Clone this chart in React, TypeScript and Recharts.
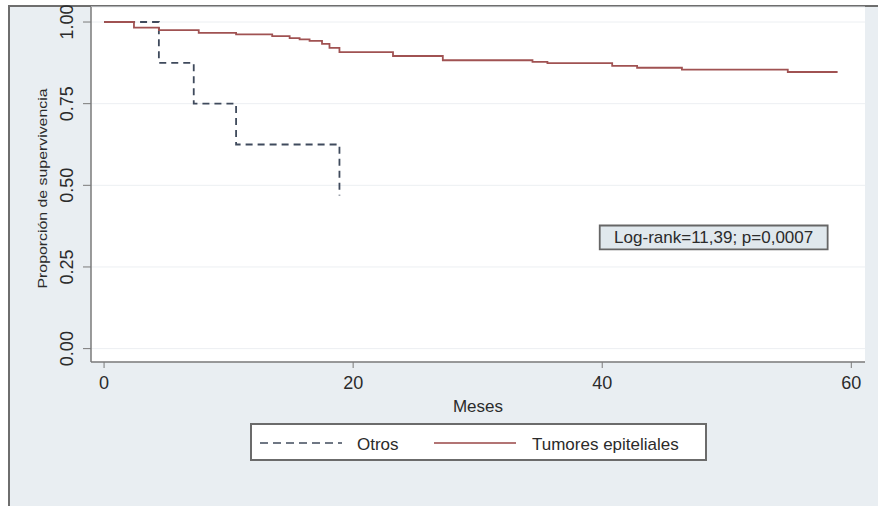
import React from 'react';
import { LineChart, Line, XAxis, YAxis, CartesianGrid, ReferenceArea, Legend, Label } from 'recharts';

const FONT = '"Liberation Sans", Arial, Helvetica, sans-serif';
const TXT = '#2b2b2b';
const OTROS_COLOR = '#3f4a5c';
const TUM_COLOR = '#a05252';

// Otros (Kaplan-Meier step points)
const otrosMonths = [0, 4.4, 7.2, 10.6, 18.9];
const otrosSurv = [1, 0.875, 0.75, 0.625, 0.469];

// Tumores epiteliales
const tumMonths = [0, 2.4, 4.4, 7.6, 10.6, 13.5, 14.9, 15.7, 16.5, 17.5, 18.1, 18.9, 23.2, 27.2, 34.4, 35.6, 40.8, 42.8, 46.4, 54.9, 58.9];
const tumSurv = [1, 0.983, 0.975, 0.967, 0.962, 0.957, 0.951, 0.947, 0.942, 0.933, 0.921, 0.908, 0.896, 0.883, 0.878, 0.874, 0.866, 0.86, 0.854, 0.847, 0.847];

const xTicks = [0, 20, 40, 60];
const yTicks = [0, 0.25, 0.5, 0.75, 1];
const seriesNames = ['Otros', 'Tumores epiteliales'];
const annotationText = 'Log-rank=11,39; p=0,0007';
const xTitle = 'Meses';
const yTitle = 'Proporción de supervivencia';

const otrosData = otrosMonths.map((x, i) => ({ x, s: otrosSurv[i] }));
const tumData = tumMonths.map((x, i) => ({ x, s: tumSurv[i] }));

const YTick = (props: any) => {
  const { x, y, payload } = props;
  const tx = x - 8;
  return (
    <text x={tx} y={y} transform={`rotate(-90, ${tx}, ${y})`} textAnchor="middle" fontFamily={FONT} fontSize={18} fill={TXT}>
      {Number(payload.value).toFixed(2)}
    </text>
  );
};

const LegendBox = () => (
  <svg width={457} height={38} style={{ display: 'block' }}>
    <rect x={1} y={1} width={455} height={36} fill="#ffffff" stroke="#6b6b6b" strokeWidth={2} />
    <line x1={10} x2={92} y1={20} y2={20} stroke={OTROS_COLOR} strokeWidth={2} strokeDasharray="8 5" opacity={0.75} />
    <text x={107} y={27} fontFamily={FONT} fontSize={17} fill={TXT}>{seriesNames[0]}</text>
    <line x1={184} x2={266} y1={20} y2={20} stroke={TUM_COLOR} strokeWidth={2} opacity={0.8} />
    <text x={282} y={27} fontFamily={FONT} fontSize={17} fill={TXT}>{seriesNames[1]}</text>
  </svg>
);

const AnnotLabel = (props: any) => {
  const vb = props.viewBox;
  return (
    <text x={vb.x + vb.width / 2} y={vb.y + vb.height / 2 + 6} textAnchor="middle" fontFamily={FONT} fontSize={17} fill={TXT}>
      {annotationText}
    </text>
  );
};

export default function App() {
  return (
    <div style={{ position: 'absolute', left: 0, top: 0, width: 878, height: 506, background: '#ffffff', overflow: 'hidden' }}>
      <div style={{ position: 'absolute', left: 8, top: 5, right: 0, bottom: 0, background: '#e9eef2', borderLeft: '2px solid #6e6e6e', borderTop: '2px solid #6e6e6e' }} />
      <div style={{ position: 'absolute', left: 0, top: 0 }}>
        <LineChart width={878} height={506} margin={{ top: 7, right: 13, left: 7, bottom: 94 }}>
          <CartesianGrid horizontal vertical={false} stroke="#eceff2" fill="#ffffff" fillOpacity={1} />
          <XAxis
            type="number"
            dataKey="x"
            domain={[-1.05, 61.1]}
            ticks={xTicks}
            allowDataOverflow
            tickSize={6}
            tickMargin={8}
            height={50}
            axisLine={{ stroke: '#7a7a7a', strokeWidth: 1.5 }}
            tickLine={{ stroke: '#7a7a7a' }}
            tick={{ fontFamily: FONT, fontSize: 18, fill: TXT }}
          >
            <Label
              content={(p: any) => (
                <text x={p.viewBox.x + p.viewBox.width / 2} y={p.viewBox.y + 50} textAnchor="middle" fontFamily={FONT} fontSize={17} fill={TXT}>
                  {xTitle}
                </text>
              )}
            />
          </XAxis>
          <YAxis
            type="number"
            domain={[-0.041, 1.046]}
            ticks={yTicks}
            allowDataOverflow
            width={84}
            tickSize={8}
            tickMargin={2}
            axisLine={{ stroke: '#7a7a7a', strokeWidth: 1.5 }}
            tickLine={{ stroke: '#7a7a7a' }}
            tick={<YTick />}
          >
            <Label
              content={(p: any) => {
                const cy = p.viewBox.y + p.viewBox.height / 2 + 4;
                return (
                  <text x={47} y={cy} transform={`rotate(-90, 47, ${cy})`} textAnchor="middle" fontFamily={FONT} fontSize={12.5} fill={TXT} textLength={200} lengthAdjust="spacingAndGlyphs">
                    {yTitle}
                  </text>
                );
              }}
            />
          </YAxis>
          <ReferenceArea x1={39.8} x2={58.1} y1={0.304} y2={0.377} fill="#e0e8ed" fillOpacity={1} stroke="#666666" strokeWidth={1.8} label={<AnnotLabel />} />
          <Line data={otrosData} dataKey="s" name={seriesNames[0]} type="stepAfter" stroke={OTROS_COLOR} strokeWidth={1.8} strokeDasharray="7 5" dot={false} activeDot={false} isAnimationActive={false} />
          <Line data={tumData} dataKey="s" name={seriesNames[1]} type="stepAfter" stroke={TUM_COLOR} strokeWidth={1.8} dot={false} activeDot={false} isAnimationActive={false} />
          <Legend
            layout="horizontal"
            verticalAlign="middle"
            align="center"
            content={() => <LegendBox />}
            wrapperStyle={{ position: 'absolute', left: 250, top: 423, width: 457, height: 38 }}
          />
        </LineChart>
      </div>
    </div>
  );
}
